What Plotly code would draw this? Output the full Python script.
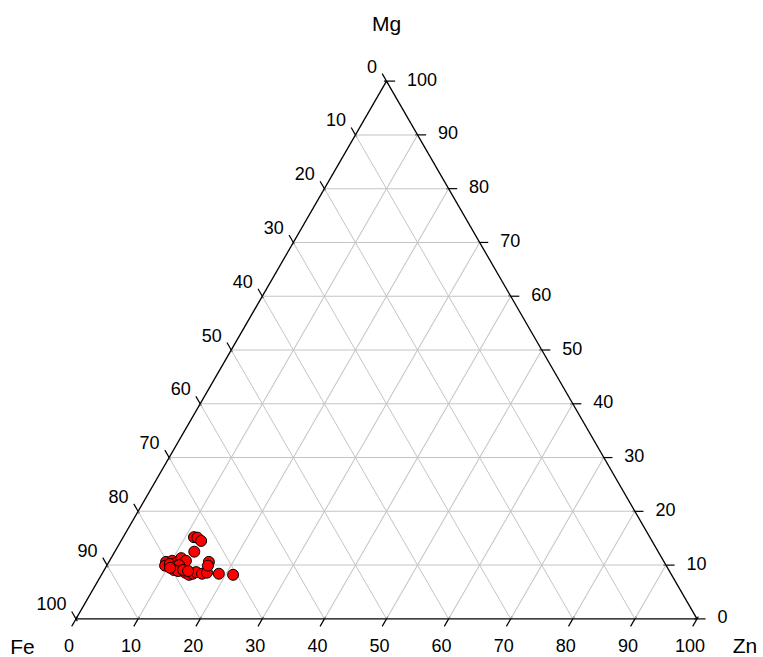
import numpy as np
import plotly.graph_objects as go

# Sample compositions (%), one entry per analysed point
mg = [15.2, 15.1, 14.5, 12.5, 10.6, 10.8, 10.4, 11.3, 10.8, 9.9, 10.2, 9.7, 10.0, 9.1,
      8.9, 8.6, 8.2, 8.4, 8.7, 8.4, 8.6, 10.6, 9.9, 8.4, 8.2, 9.1, 8.9, 9.5]
fe = [73.4, 72.9, 72.6, 74.7, 80.2, 79.1, 78.7, 77.4, 76.9, 80.7, 79.8, 79.2, 78.4, 79.7,
      79.1, 78.1, 77.7, 77.0, 76.3, 75.5, 74.6, 73.3, 73.8, 72.8, 70.6, 78.2, 77.5, 80.1]
zn = [11.4, 12.0, 12.9, 12.8, 9.2, 10.1, 10.9, 11.3, 12.3, 9.4, 10.0, 11.1, 11.6, 11.2,
      12.0, 13.3, 14.1, 14.6, 15.0, 16.1, 16.8, 16.1, 16.3, 18.8, 21.2, 12.7, 13.6, 10.4]

tick_values = list(range(0, 101, 10))
tick_labels = [str(v) for v in tick_values]
vertex_titles = ["Mg", "Fe", "Zn"]

# Page geometry: the ternary triangle sits in a fixed box on the page
FIG_W, FIG_H = 763, 657
TRI_L, TRI_R = 76, 697          # left / right corners (px)
TRI_TOP_PAD, TRI_BOT_PAD = 81, 38
W = TRI_R - TRI_L               # side length, px
H = W * np.sqrt(3) / 2
S = W / 100                     # px per composition unit
CENTER_Y = TRI_TOP_PAD + (FIG_H - TRI_TOP_PAD - TRI_BOT_PAD) / 2
BOTTOM_Y = CENTER_Y + H / 2     # px of the Fe-Zn edge
FONT = "Liberation Sans, Arial, sans-serif"


def to_xy(m, f, z, dx=0.0, dy=0.0):
    """Composition (Mg, Fe, Zn) -> overlay coords, plus a screen offset in px."""
    tot = m + f + z
    x = (z + m / 2) * 100 / tot
    y = (m * np.sqrt(3) / 2) * 100 / tot
    return x + dx / S, y - dy / S


def edge_points(side):
    pts = []
    for v in tick_values:
        if side == "left":      # Fe scale on the Mg-Fe edge
            pts.append((100 - v, v, 0))
        elif side == "right":   # Mg scale on the Mg-Zn edge
            pts.append((v, 0, 100 - v))
        else:                   # Zn scale on the Fe-Zn edge
            pts.append((0, 100 - v, v))
    return pts


# outward tick direction, label offset (px), text anchor, tick angle
SIDES = {
    "left": dict(out=(-0.5, -0.866), lab=(-9.5, -13), pos="middle left", ang=60),
    "right": dict(out=(1.0, 0.0), lab=(20.5, 0), pos="middle right", ang=0),
    "bottom": dict(out=(-0.5, 0.866), lab=(-7, 29), pos="middle center", ang=-60),
}

fig = go.Figure()

# Scale ticks and numbers, drawn on an overlay aligned with the triangle
for side, cfg in SIDES.items():
    pts = edge_points(side)
    ox, oy = cfg["out"]
    tk = [to_xy(*p, 3 * ox, 3 * oy) for p in pts]
    fig.add_trace(go.Scatter(
        x=[p[0] for p in tk], y=[p[1] for p in tk],
        mode="markers", hoverinfo="skip", showlegend=False, cliponaxis=False,
        marker=dict(symbol="line-ew", size=8, angle=cfg["ang"],
                    line=dict(color="black", width=1.2)),
    ))
    lb = [to_xy(*p, *cfg["lab"]) for p in pts]
    fig.add_trace(go.Scatter(
        x=[p[0] for p in lb], y=[p[1] for p in lb],
        mode="text", text=tick_labels, textposition=cfg["pos"],
        textfont=dict(family=FONT, size=18, color="black"),
        hoverinfo="skip", showlegend=False, cliponaxis=False,
    ))

# Vertex titles
corners = [(100, 0, 0), (0, 100, 0), (0, 0, 100)]
title_offsets = [(0, -55), (-53.5, 29.5), (48, 28.5)]
tp = [to_xy(*cn, *off) for cn, off in zip(corners, title_offsets)]
fig.add_trace(go.Scatter(
    x=[p[0] for p in tp], y=[p[1] for p in tp],
    mode="text", text=vertex_titles, textposition="middle center",
    textfont=dict(family=FONT, size=21, color="black"),
    hoverinfo="skip", showlegend=False, cliponaxis=False,
))

# Samples on the ternary subplot
fig.add_trace(go.Scatterternary(
    a=mg, b=fe, c=zn, mode="markers", showlegend=False,
    marker=dict(size=11, color="#ff0000", line=dict(color="black", width=1)),
))

axis_style = dict(
    min=0, dtick=10, tick0=0, ticks="", showticklabels=False,
    showgrid=True, gridcolor="#c4c4c4", gridwidth=1,
    showline=True, linecolor="black", linewidth=1.3, title=dict(text=""),
)

x_rng = [-TRI_L / S, (FIG_W - TRI_L) / S]
y_rng = [-(FIG_H - BOTTOM_Y) / S, BOTTOM_Y / S]

fig.update_layout(
    width=FIG_W, height=FIG_H,
    margin=dict(l=0, r=0, t=0, b=0),
    paper_bgcolor="white", plot_bgcolor="rgba(0,0,0,0)",
    xaxis=dict(range=x_rng, visible=False, fixedrange=True),
    yaxis=dict(range=y_rng, visible=False, fixedrange=True),
    ternary=dict(
        sum=100, bgcolor="rgba(0,0,0,0)",
        domain=dict(x=[TRI_L / FIG_W, TRI_R / FIG_W],
                    y=[TRI_BOT_PAD / FIG_H, 1 - TRI_TOP_PAD / FIG_H]),
        aaxis=axis_style, baxis=axis_style, caxis=axis_style,
    ),
    font=dict(family=FONT),
)

fig.write_html("out.html")
